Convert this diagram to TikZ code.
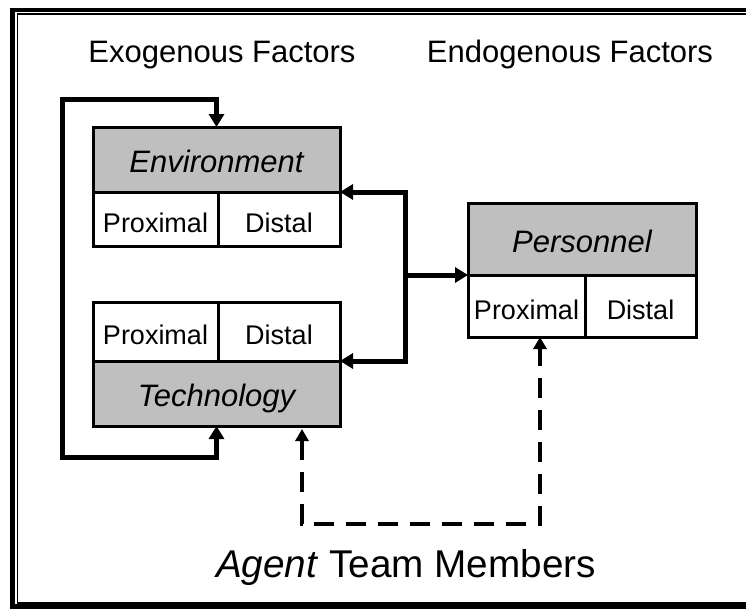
\documentclass[tikz,border=0pt]{standalone}
\usepackage{fontspec}
\setmainfont{Liberation Sans}
\usetikzlibrary{arrows.meta}

\begin{document}
\begin{tikzpicture}[x=1pt, y=-1pt,
   head/.style={draw, line width=3pt, fill=black!25, outer sep=0pt, inner sep=0pt,
      minimum width=247pt, minimum height=65pt, text height=26pt, text depth=0pt,
      font=\fontsize{31}{36}\selectfont\itshape},
   cell/.style={draw, line width=3pt, fill=white, outer sep=0pt, inner sep=0pt,
      minimum height=54pt, text height=26pt, text depth=0pt,
      font=\fontsize{27}{32}\selectfont},
   title/.style={anchor=base, font=\fontsize{31}{36}\selectfont},
   link/.style={line width=5pt, -{Triangle[length=13pt,width=15pt]}},
   feedback/.style={line width=5pt, {Triangle[length=13pt,width=15pt]}-{Triangle[length=13pt,width=15pt]}},
   agent/.style={line width=4pt, dash pattern=on 20pt off 12pt, shorten <=3pt,
      {Triangle[length=12pt,width=13pt]}-{Triangle[length=12pt,width=13pt]}}]
   \clip (0,0) rectangle (746,608);

   % 外框
   \draw[line width=4.5pt] (12.5,10) rectangle (800,606.5);
   \draw[line width=1.5pt] (17.5,14) rectangle (790,603);

   % 标题
   \node[title] (exo) at (222,62) {Exogenous Factors};
   \node[title] (endo) at (570,62) {Endogenous Factors};
   \node[title, font=\fontsize{38.7}{44}\selectfont] (team) at (406,577) {\textit{Agent} Team Members};

   % 定义方框节点
   \node[head] (env) at (216.5,159.5) {Environment};
   \node[cell, minimum width=125pt, anchor=north west] (envprox) at (env.south west) {Proximal};
   \node[cell, minimum width=122pt, anchor=north east] (envdist) at (env.south east) {Distal};

   \node[head] (tech) at (216.5,393.5) {Technology};
   \node[cell, minimum width=125pt, minimum height=59pt, anchor=south west] (techprox) at (tech.north west) {Proximal};
   \node[cell, minimum width=122pt, minimum height=59pt, anchor=south east] (techdist) at (tech.north east) {Distal};

   \node[head, minimum width=228pt, minimum height=72pt] (pers) at (582,239) {Personnel};
   \node[cell, minimum width=117pt, minimum height=62pt, anchor=north west] (persprox) at (pers.south west) {Proximal};
   \node[cell, minimum width=111pt, minimum height=62pt, anchor=north east] (persdist) at (pers.south east) {Distal};

   % 左侧回路
   \coordinate (looptop) at (62.5,99);
   \coordinate (loopbot) at (62.5,457.5);
   \draw[feedback] (env.north) |- (looptop) -- (loopbot) -| (tech.south);

   % 右侧连接
   \coordinate (hub) at (405,275);
   \draw[link] (hub) |- (env.south east);
   \draw[link] (hub) |- (tech.north east);
   \draw[link] (hub) -- (pers.south west);

   % Agent 虚线
   \coordinate (dashl) at (302,524);
   \coordinate (dashr) at (540,524);
   \draw[agent] (tech.south -| dashl) -- (dashl) -- (dashr) -- (persprox.south -| dashr);
\end{tikzpicture}
\end{document}
